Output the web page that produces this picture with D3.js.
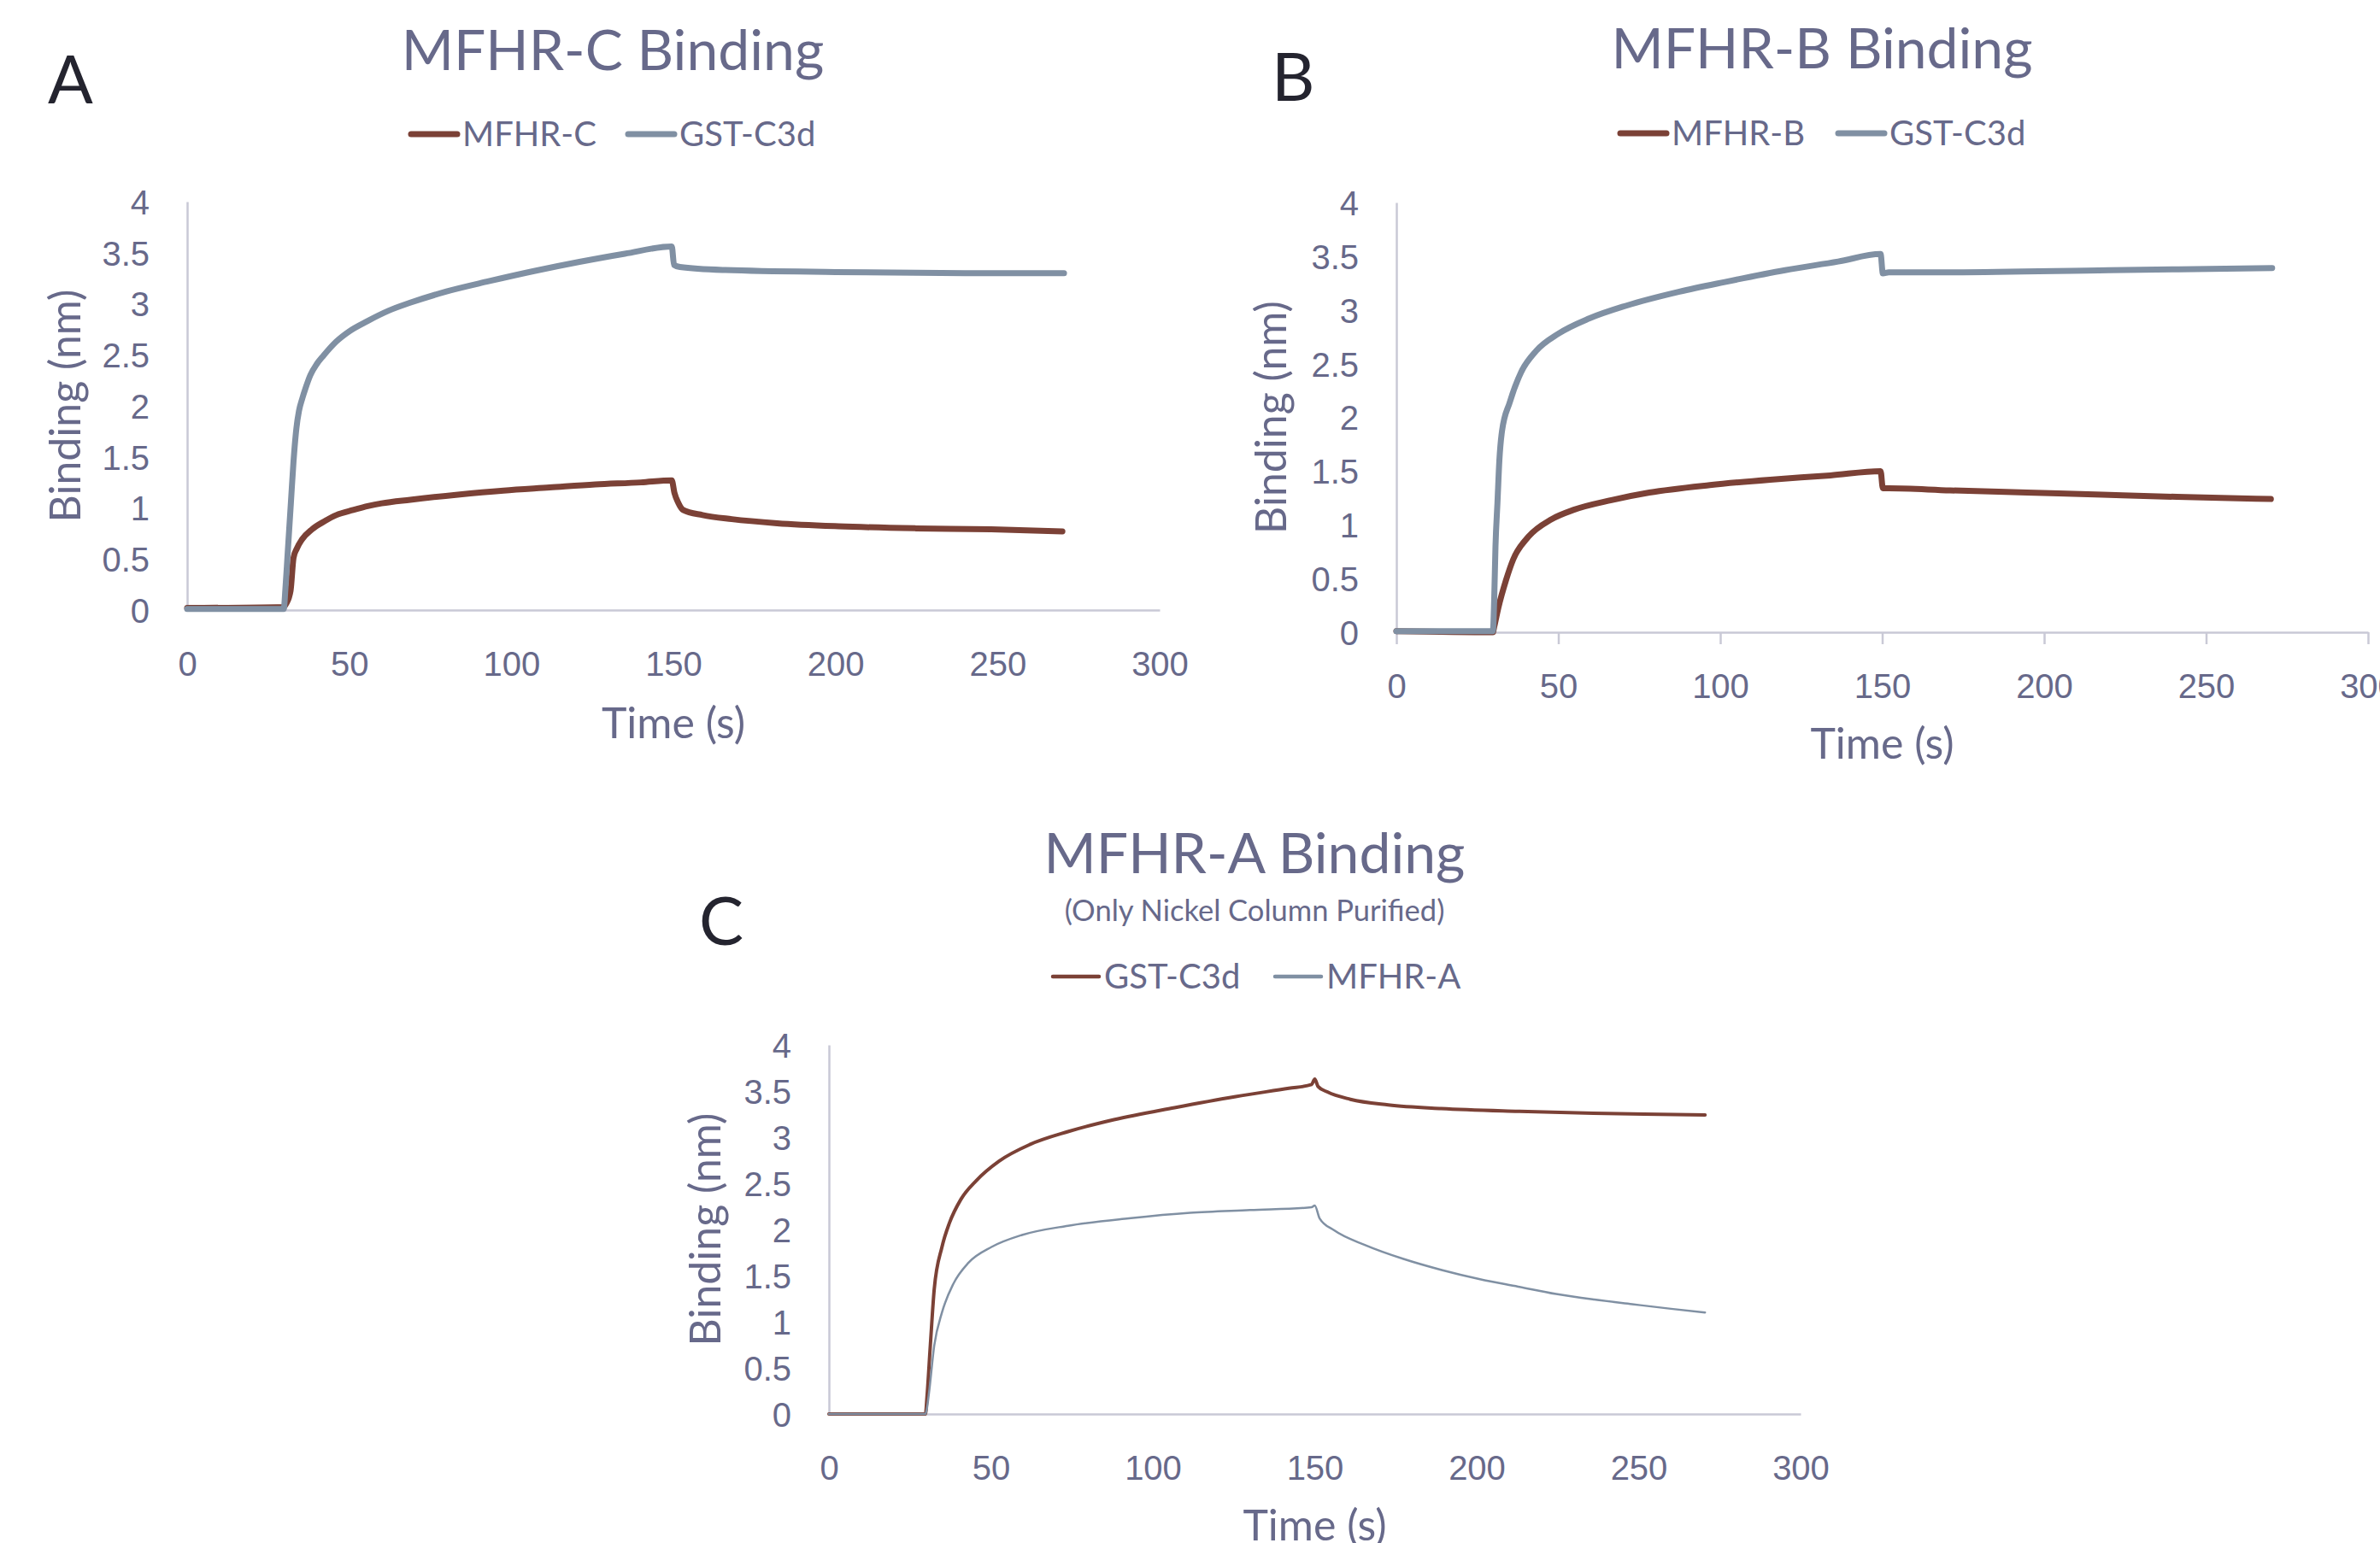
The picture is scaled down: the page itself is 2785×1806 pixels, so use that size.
<!DOCTYPE html>
<html>
<head>
<meta charset="utf-8">
<script src="https://cdn.jsdelivr.net/npm/d3@7"></script>
<style>
  body { margin: 0; background: #fff; }
  svg { display: block; font-family: Lato, "Open Sans", sans-serif; }
</style>
</head>
<body>
<svg id="fig" width="2785" height="1806"></svg>
<script>
// ticks shared by every panel
var xTicks = [0, 50, 100, 150, 200, 250, 300];
var yTicks = [0, 0.5, 1, 1.5, 2, 2.5, 3, 3.5, 4];

// panel A : MFHR-C binding  [time (s), binding (nm)]
var mfhrC = [[0,0.02],[29.8,0.03],[30.5,0.06],[31.9,0.19],[32.8,0.51],[33.8,0.6],[35.4,0.69],[38.5,0.79],[42.4,0.87],[46,0.93],[51.2,0.98],[56,1.02],[60,1.045],[68.8,1.08],[83.5,1.13],[97.6,1.17],[111.8,1.2],[125.9,1.23],[140,1.25],[149.5,1.27],[150.3,1.15],[151.5,1.05],[153,0.98],[159,0.93],[168,0.89],[182,0.85],[201,0.82],[225,0.8],[248,0.79],[270,0.77]];
var gstA = [[0,0.01],[29.8,0.01],[30.3,0.2],[31,0.55],[32,1.05],[32.8,1.45],[33.7,1.78],[34.5,1.95],[35.5,2.07],[36.5,2.17],[38,2.3],[40,2.41],[42,2.49],[46,2.63],[50,2.73],[55.6,2.83],[62,2.93],[68.8,3.01],[80,3.12],[93,3.22],[107,3.32],[121,3.41],[135,3.49],[149.5,3.56],[150.2,3.38],[152,3.36],[166,3.33],[200,3.31],[240,3.3],[270.5,3.3]];

// panel B : MFHR-B binding
var mfhrB = [[0,0.01],[29.8,0],[30.2,0.05],[31.5,0.23],[33.8,0.48],[36.1,0.68],[40.8,0.89],[47.8,1.05],[54.8,1.14],[66.4,1.23],[78.1,1.3],[96.8,1.37],[115.4,1.42],[134,1.46],[149.5,1.5],[150.2,1.34],[152,1.34],[171,1.32],[194.7,1.3],[218,1.28],[241,1.26],[270,1.24]];
var gstB = [[0,0.01],[29.8,0.01],[30.2,0.3],[30.6,0.8],[31.2,1.2],[31.8,1.6],[32.6,1.87],[35,2.14],[38.5,2.42],[43.2,2.62],[50.1,2.78],[59.5,2.92],[71,3.04],[87.4,3.17],[101.4,3.26],[120,3.37],[136.4,3.45],[149.5,3.52],[150.2,3.34],[152,3.35],[170,3.35],[220,3.37],[270.4,3.39]];

// panel C : MFHR-A binding
var gstC = [[0,0],[29.8,0],[30.3,0.2],[31.3,0.74],[32.5,1.35],[34.9,1.81],[37.2,2.07],[40.8,2.33],[45.5,2.53],[52.5,2.74],[62,2.92],[73.8,3.06],[88,3.19],[106.7,3.32],[125.6,3.44],[142,3.53],[149,3.57],[150,3.63],[151,3.55],[153.9,3.49],[161,3.41],[172.7,3.35],[189,3.31],[212.8,3.28],[236,3.26],[251.6,3.25],[270.5,3.24]];
var mfhrA = [[0,0],[29.8,0],[30.2,0.05],[30.9,0.23],[32.5,0.74],[34.9,1.1],[38.4,1.41],[43.1,1.64],[50.2,1.81],[59.6,1.94],[73.8,2.04],[92.6,2.12],[111.5,2.18],[130,2.21],[149,2.24],[150,2.26],[151.5,2.12],[156,1.99],[165.6,1.83],[177.4,1.68],[189.2,1.56],[201,1.46],[212.8,1.38],[224.5,1.3],[236.3,1.24],[248,1.19],[260,1.14],[270.5,1.1]];

var brown = "#7b4136", slate = "#8090a3", txt = "#67698a", axisCol = "#c9c9d6";

var svg = d3.select("#fig");

function panel(p) {
  var x = d3.scaleLinear().domain([0, 300]).range([p.left, p.right]);
  var y = d3.scaleLinear().domain([0, 4]).range([p.bottom, p.top]);
  var g = svg.append("g");

  // x axis
  var xa = g.append("g").attr("transform", "translate(0," + p.bottom + ")")
    .call(d3.axisBottom(x).tickValues(xTicks).tickSizeOuter(0).tickSizeInner(p.xTickLen).tickPadding(0));
  xa.select(".domain").attr("stroke", axisCol).attr("stroke-width", 2.5);
  xa.selectAll(".tick line").attr("stroke", axisCol).attr("stroke-width", 2.5);
  xa.selectAll(".tick text").remove();
  xa.selectAll(".tick").append("text")
    .attr("y", 77).attr("text-anchor", "middle").attr("fill", txt)
    .style("font-size", "40px").text(function(d) { return d; });

  // y axis
  var ya = g.append("g").attr("transform", "translate(" + p.left + ",0)")
    .call(d3.axisLeft(y).tickValues(yTicks).tickSize(0).tickPadding(0));
  ya.select(".domain").attr("stroke", axisCol).attr("stroke-width", 2.5);
  ya.selectAll(".tick text").remove();
  ya.selectAll(".tick").append("text")
    .attr("x", -44).attr("dy", "0.36em").attr("text-anchor", "end").attr("fill", txt)
    .style("font-size", "40px").text(function(d) { return d; });

  // axis titles
  g.append("text").attr("x", (p.left + p.right) / 2).attr("y", p.xTitleY)
    .attr("text-anchor", "middle").attr("fill", txt).style("font-size", "50px").text("Time (s)");
  g.append("text").attr("transform", "translate(" + p.yTitleX + "," + (p.top + p.bottom) / 2 + ") rotate(-90)")
    .attr("text-anchor", "middle").attr("fill", txt).style("font-size", "50px").text("Binding (nm)");

  // curves
  var line = d3.line().x(function(d) { return x(d[0]); }).y(function(d) { return y(d[1]); })
    .curve(d3.curveMonotoneX);
  p.series.forEach(function(s) {
    g.append("path").datum(s.data).attr("d", line).attr("fill", "none")
      .attr("stroke", s.color).attr("stroke-width", s.width)
      .attr("stroke-linejoin", "round").attr("stroke-linecap", "round");
  });

  // legend
  p.legend.forEach(function(l) {
    g.append("line").attr("x1", l.x).attr("x2", l.x + 54).attr("y1", p.legendY).attr("y2", p.legendY)
      .attr("stroke", l.color).attr("stroke-width", l.width).attr("stroke-linecap", "round");
    g.append("text").attr("x", l.x + 60).attr("y", p.legendY + 14).attr("fill", txt)
      .style("font-size", "40px").text(l.name);
  });

  // titles
  g.append("text").attr("x", p.titleX).attr("y", p.titleY).attr("text-anchor", "middle")
    .attr("fill", txt).style("font-size", "66px").text(p.title);
  if (p.subtitle) {
    g.append("text").attr("x", p.titleX).attr("y", p.titleY + 56).attr("text-anchor", "middle")
      .attr("fill", txt).style("font-size", "34.5px").text(p.subtitle);
  }
  g.append("text").attr("x", p.letterX).attr("y", p.letterY).attr("fill", "#24242f")
    .style("font-size", "78px").text(p.letter);
}

panel({
  left: 219, right: 1357, top: 236, bottom: 714, xTickLen: 0,
  xTitleY: 864, yTitleX: 94,
  title: "MFHR-C Binding", titleX: 717, titleY: 82, letter: "A", letterX: 56, letterY: 121,
  legendY: 157,
  legend: [{name: "MFHR-C", color: brown, width: 7, x: 481}, {name: "GST-C3d", color: slate, width: 7, x: 735}],
  series: [{data: mfhrC, color: brown, width: 7}, {data: gstA, color: slate, width: 7}]
});

panel({
  left: 1634, right: 2771, top: 237, bottom: 740, xTickLen: 14,
  xTitleY: 888, yTitleX: 1505,
  title: "MFHR-B Binding", titleX: 2132, titleY: 80, letter: "B", letterX: 1488, letterY: 118,
  legendY: 156,
  legend: [{name: "MFHR-B", color: brown, width: 7, x: 1896}, {name: "GST-C3d", color: slate, width: 7, x: 2151}],
  series: [{data: mfhrB, color: brown, width: 7}, {data: gstB, color: slate, width: 7}]
});

panel({
  left: 970, right: 2107, top: 1223, bottom: 1655, xTickLen: 0,
  xTitleY: 1803, yTitleX: 843,
  title: "MFHR-A Binding", subtitle: "(Only Nickel Column Purified)", titleX: 1468, titleY: 1022,
  letter: "C", letterX: 818, letterY: 1106,
  legendY: 1143,
  legend: [{name: "GST-C3d", color: brown, width: 4.5, x: 1232}, {name: "MFHR-A", color: slate, width: 4.5, x: 1492}],
  series: [{data: gstC, color: brown, width: 4}, {data: mfhrA, color: slate, width: 2.5}]
});
</script>
</body>
</html>
